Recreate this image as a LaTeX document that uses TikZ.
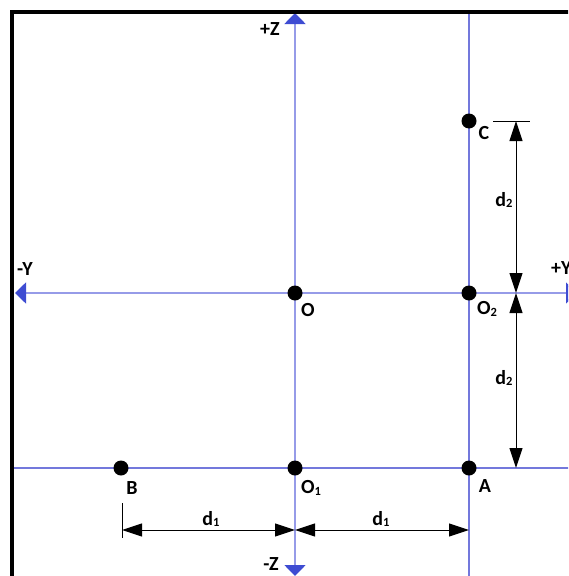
\documentclass[tikz,border=0pt]{standalone}
\usepackage{fontspec}
\setmainfont{Carlito}
\usetikzlibrary{arrows.meta}
\definecolor{axline}{RGB}{150,155,232}
\definecolor{axhead}{RGB}{62,76,210}
\definecolor{gridline}{RGB}{115,120,220}
\newcommand\mysub[1]{\raisebox{-1.2pt}{\fontsize{12.5pt}{12.5pt}\selectfont #1}}
\tikzset{
  axis/.style={draw=axline, line width=1.8pt, arrows={Triangle[width=21pt,length=11pt,color=axhead]-Triangle[width=21pt,length=11pt,color=axhead]}},
  gridl/.style={draw=gridline, line width=1.1pt},
  pt/.style={circle, fill=black, inner sep=0pt, minimum size=15pt},
  lbl/.style={font=\fontsize{20pt}{20pt}\selectfont\bfseries, inner sep=0pt},
  dim/.style={draw=black, line width=1pt, arrows={Triangle[width=13pt,length=20pt]-Triangle[width=13pt,length=20pt]}},
  tick/.style={draw=black, line width=1pt},
}
\begin{document}
\begin{tikzpicture}[x=1pt,y=-1pt]
\useasboundingbox (0,0) rectangle (568,576);
\begin{scope}
\clip (0,0) rectangle (568,576);
% grid lines
\draw[gridl] (469,12) -- (469,580);
\draw[gridl] (12,468) -- (580,468);
% axes
\coordinate (ztop) at (295,13);
\coordinate (zbot) at (295,576);
\coordinate (yleft) at (15,293);
\coordinate (yright) at (577,293);
\draw[axis] (yleft) -- (yright);
\draw[axis] (zbot) -- (ztop);
% frame
\draw[line width=4.5pt] (12,590) -- (12,12) -- (590,12);
% points
\node[pt] (O) at (295,293) {};
\node[pt] (O2) at (469,293) {};
\node[pt] (C) at (469,121) {};
\node[pt] (B) at (121,468) {};
\node[pt] (O1) at (295,468) {};
\node[pt] (A) at (469,468) {};
% dimensions
\coordinate (d2top) at (516,121);
\coordinate (d2mid) at (516,293);
\coordinate (d2bot) at (516,468);
\coordinate (t1a) at (493,121);
\coordinate (t1b) at (530,121);
\draw[tick] (t1a) -- (t1b);
\draw[dim] (d2top) -- (d2mid);
\draw[dim] (d2mid) -- (d2bot);
\coordinate (d1l) at (122,530);
\coordinate (d1m) at (295,530);
\coordinate (d1r) at (469,530);
\coordinate (t2a) at (122,503);
\coordinate (t2b) at (122,538);
\draw[tick] (t2a) -- (t2b);
\draw[dim] (d1l) -- (d1m);
\draw[dim] (d1m) -- (d1r);
% labels
\node[lbl] (lZp) at (270,29) {+Z};
\node[lbl] (lZm) at (271,564) {-Z};
\node[lbl] (lYm) at (25,269) {-Y};
\node[lbl, anchor=west] (lYp) at (551,268) {+Y};
\node[lbl] (lO) at (308,310) {O};
\node[lbl] (lO2) at (487,309) {O\mysub{2}};
\node[lbl] (lC) at (484,133) {C};
\node[lbl] (lB) at (132,488) {B};
\node[lbl] (lO1) at (311,488) {O\mysub{1}};
\node[lbl] (lA) at (485,486) {A};
\node[lbl] (ld2a) at (504,200) {d\mysub{2}};
\node[lbl] (ld2b) at (504,378) {d\mysub{2}};
\node[lbl] (ld1a) at (211,519) {d\mysub{1}};
\node[lbl] (ld1b) at (381,519) {d\mysub{1}};
\end{scope}
\end{tikzpicture}
\end{document}
